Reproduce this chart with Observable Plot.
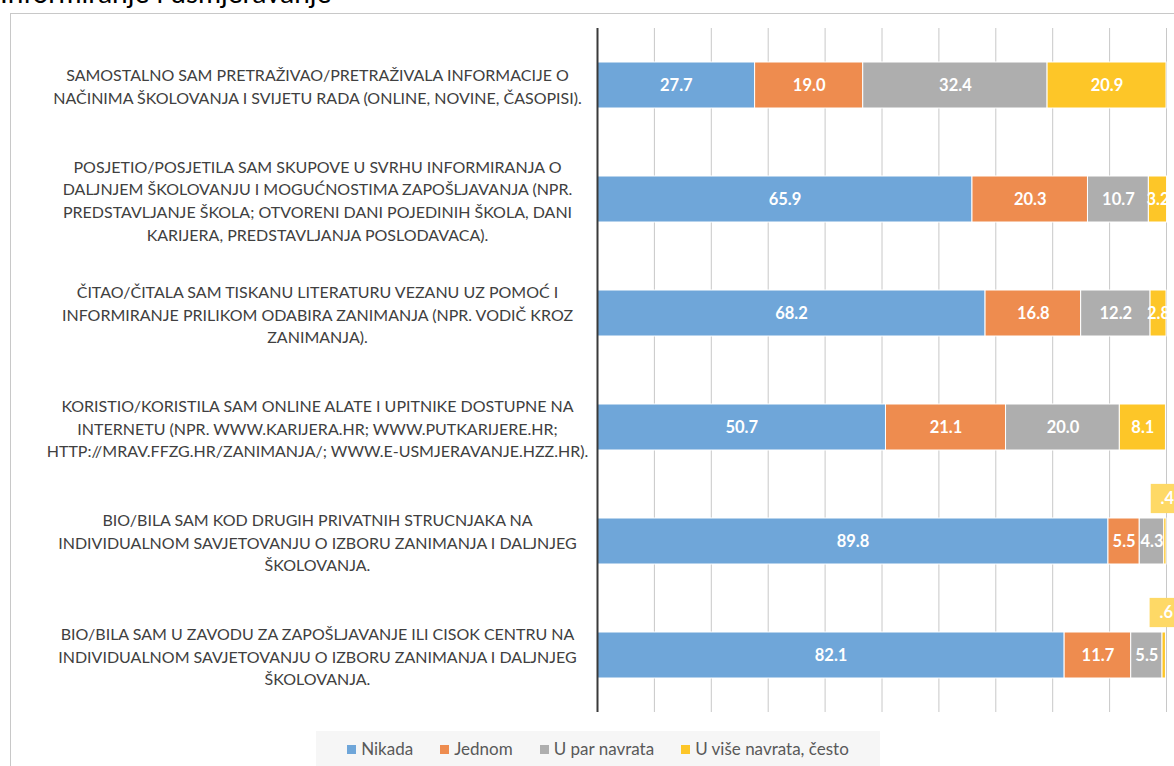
<!DOCTYPE html>
<html>
<head>
<meta charset="utf-8">
<script src="https://cdn.jsdelivr.net/npm/d3@7"></script>
<script src="https://cdn.jsdelivr.net/npm/@observablehq/plot@0.6"></script>
<style>
  html, body { margin: 0; padding: 0; background: #fff; overflow: hidden; }
  body { width: 1174px; height: 766px; position: relative; font-family: Lato, "Open Sans", sans-serif; }
  #title { position: absolute; left: 0; top: -25px; font-size: 28px; line-height: 34px; color: #000; white-space: nowrap; }
  #frame { position: absolute; left: 10px; top: 13px; width: 1200px; height: 800px; border: 1px solid #c8c8c8; box-sizing: border-box; }
  #chart { position: absolute; left: 0; top: 0; }
  #legend { position: absolute; left: 316px; top: 731px; width: 564px; height: 35px; background: #f6f6f6;
            display: flex; justify-content: center; align-items: center; gap: 27px; font-size: 17px; color: #595959; }
  #legend span.sw { display: inline-block; width: 9px; height: 9px; margin-right: 5px; vertical-align: 1px; }
</style>
</head>
<body>
<div id="title">Informiranje i usmjeravanje</div>
<div id="frame"></div>
<div id="chart"></div>
<div id="legend"></div>
<script>
const categories = [
  "SAMOSTALNO SAM PRETRAŽIVAO/PRETRAŽIVALA INFORMACIJE O\nNAČINIMA ŠKOLOVANJA I SVIJETU RADA (ONLINE, NOVINE, ČASOPISI).",
  "POSJETIO/POSJETILA SAM SKUPOVE U SVRHU INFORMIRANJA O\nDALJNJEM ŠKOLOVANJU I MOGUĆNOSTIMA ZAPOŠLJAVANJA (NPR.\nPREDSTAVLJANJE ŠKOLA; OTVORENI DANI POJEDINIH ŠKOLA, DANI\nKARIJERA, PREDSTAVLJANJA POSLODAVACA).",
  "ČITAO/ČITALA SAM TISKANU LITERATURU VEZANU UZ POMOĆ I\nINFORMIRANJE PRILIKOM ODABIRA ZANIMANJA (NPR. VODIČ KROZ\nZANIMANJA).",
  "KORISTIO/KORISTILA SAM ONLINE ALATE I UPITNIKE DOSTUPNE NA\nINTERNETU (NPR. WWW.KARIJERA.HR; WWW.PUTKARIJERE.HR;\nHTTP://MRAV.FFZG.HR/ZANIMANJA/; WWW.E-USMJERAVANJE.HZZ.HR).",
  "BIO/BILA SAM KOD DRUGIH PRIVATNIH STRUCNJAKA NA\nINDIVIDUALNOM SAVJETOVANJU O IZBORU ZANIMANJA I DALJNJEG\nŠKOLOVANJA.",
  "BIO/BILA SAM U ZAVODU ZA ZAPOŠLJAVANJE ILI CISOK CENTRU NA\nINDIVIDUALNOM SAVJETOVANJU O IZBORU ZANIMANJA I DALJNJEG\nŠKOLOVANJA."
];
const seriesNames = ["Nikada", "Jednom", "U par navrata", "U više navrata, često"];
const seriesColors = ["#6fa6d9", "#ee8c4f", "#aeaeae", "#fdc628"];
const nikada = [27.7, 65.9, 68.2, 50.7, 89.8, 82.1];
const jednom = [19.0, 20.3, 16.8, 21.1, 5.5, 11.7];
const uParNavrata = [32.4, 10.7, 12.2, 20.0, 4.3, 5.5];
const uViseNavrata = [20.9, 3.2, 2.8, 8.1, 0.4, 0.6];
const xTicks = [0, 10, 20, 30, 40, 50, 60, 70, 80, 90, 100];

const seriesValues = [nikada, jednom, uParNavrata, uViseNavrata];
const tidy = [];
seriesNames.forEach((s, si) => {
  categories.forEach((c, ci) => tidy.push({cat: c, series: s, value: seriesValues[si][ci]}));
});
const fmt = v => v < 1 ? v.toFixed(1).replace(/^0/, "") : v.toFixed(1);

const chart = Plot.plot({
  width: 1174,
  height: 720,
  marginLeft: 597,
  marginRight: 8,
  marginTop: 28,
  marginBottom: 8,
  style: {fontFamily: "Lato, 'Open Sans', sans-serif", background: "transparent", overflow: "visible"},
  x: {domain: [0, 100], axis: null},
  y: {domain: categories, axis: null, paddingInner: 0.6, paddingOuter: 0.3},
  color: {domain: seriesNames, range: seriesColors},
  r: {type: "identity"},
  marks: [
    Plot.ruleX(xTicks.slice(1), {stroke: "#c8c8c8", strokeWidth: 1}),
    Plot.barX(tidy, Plot.stackX({x: "value", y: "cat", fill: "series", stroke: "white", strokeWidth: 1})),
    Plot.text(tidy, Plot.stackX({
      x: "value", y: "cat", z: "series",
      text: d => d.value >= 1 ? fmt(d.value) : "",
      fill: "white", fontWeight: "bold", fontSize: 16.5
    })),
    Plot.dot(tidy, Plot.stackX({
      x: "value", y: "cat", z: "series",
      r: d => d.value < 1 ? 16.5 : 0,
      symbol: "square", fill: "#fed966", stroke: "none", dx: 0, dy: -43
    })),
    Plot.text(tidy, Plot.stackX({
      x: "value", y: "cat", z: "series",
      text: d => d.value < 1 ? fmt(d.value) : "",
      fill: "white", fontWeight: "bold", fontSize: 16.5, dx: 2, dy: -43
    })),
    Plot.ruleX([0], {stroke: "#3a3a3a", strokeWidth: 2}),
    Plot.text(categories, {
      y: d => d, text: d => d, frameAnchor: "left", dx: -280, textAnchor: "middle",
      lineHeight: 1.42, fontSize: 16, fill: "#404040"
    })
  ]
});
document.getElementById("chart").appendChild(chart);

const legend = document.getElementById("legend");
seriesNames.forEach((s, i) => {
  const item = document.createElement("div");
  item.innerHTML = `<span class="sw" style="background:${seriesColors[i]}"></span>${s}`;
  legend.appendChild(item);
});
</script>
</body>
</html>
